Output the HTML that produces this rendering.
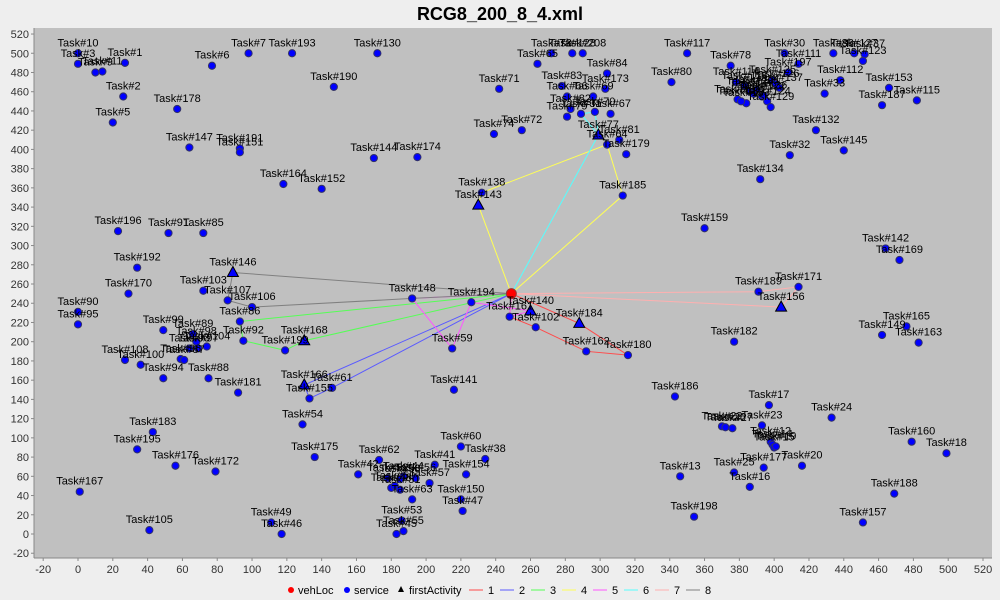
<!DOCTYPE html>
<html><head><meta charset="utf-8"><style>
html,body{margin:0;padding:0;background:#eeeeee;}
svg{display:block;font-family:"Liberation Sans",sans-serif;}
</style></head><body>
<svg id="chart" width="1000" height="600" xmlns="http://www.w3.org/2000/svg">
<rect x="0" y="0" width="1000" height="600" fill="#eeeeee"/>
<text x="500" y="20" text-anchor="middle" font-size="18" font-weight="bold" fill="#000">RCG8_200_8_4.xml</text>
<rect x="34" y="28" width="958" height="530" fill="#c0c0c0"/>
<g id="axes"></g><g id="routes"></g><g id="points"></g><g id="labels"></g><g id="legend"></g>
</svg>
<script>
const taskNames=["Task#10","Task#3","Task#1","Task#11","Task#9","Task#2","Task#5","Task#178","Task#6","Task#7","Task#193","Task#130","Task#190","Task#147","Task#191","Task#151","Task#144","Task#174","Task#164","Task#152","Task#196","Task#91","Task#85","Task#192","Task#170","Task#103","Task#107","Task#106","Task#90","Task#95","Task#86","Task#99","Task#89","Task#98","Task#104","Task#92","Task#199","Task#93","Task#108","Task#100","Task#96","Task#87","Task#97","Task#94","Task#88","Task#181","Task#61","Task#155","Task#54","Task#183","Task#195","Task#176","Task#172","Task#175","Task#167","Task#105","Task#49","Task#46","Task#62","Task#42","Task#44","Task#41","Task#56","Task#57","Task#63","Task#60","Task#38","Task#154","Task#150","Task#47","Task#53","Task#55","Task#45","Task#48","Task#50","Task#51","Task#52","Task#58","Task#148","Task#194","Task#59","Task#141","Task#138","Task#74","Task#72","Task#71","Task#65","Task#73","Task#128","Task#208","Task#84","Task#83","Task#173","Task#69","Task#66","Task#82","Task#31","Task#70","Task#67","Task#79","Task#81","Task#64","Task#179","Task#185","Task#117","Task#80","Task#78","Task#30","Task#197","Task#111","Task#114","Task#118","Task#120","Task#121","Task#122","Task#124","Task#125","Task#126","Task#131","Task#133","Task#135","Task#136","Task#137","Task#139","Task#129","Task#112","Task#33","Task#86b","Task#127","Task#37","Task#123","Task#153","Task#187","Task#115","Task#132","Task#145","Task#32","Task#134","Task#159","Task#142","Task#169","Task#189","Task#171","Task#161","Task#102","Task#162","Task#180","Task#165","Task#149","Task#163","Task#182","Task#186","Task#17","Task#24","Task#23","Task#22","Task#26","Task#27","Task#12","Task#14","Task#15","Task#19","Task#160","Task#18","Task#20","Task#177","Task#25","Task#13","Task#16","Task#188","Task#157","Task#198"];
const taskX=[0,0,27,14,10,26,20,57,77,98,123,172,147,64,93,93,170,195,118,140,23,52,72,34,29,72,86,100,0,0,93,49,66,68,74,95,119,64,27,36,59,61,69,49,75,92,146,133,129,43,34,56,79,136,1,41,111,117,173,161,187,205,194,202,192,220,234,223,220,221,186,187,183,180,182,185,178,185,192,226,215,216,232,239,255,242,264,272,284,290,304,278,303,296,281,283,289,297,306,281,311,304,315,313,350,341,375,406,408,414,378,383,386,390,393,396,399,401,379,384,388,394,403,381,398,438,429,434,446,452,451,466,462,482,424,440,409,392,360,464,472,391,414,248,263,292,316,476,462,483,377,343,397,433,393,370,372,376,398,399,400,401,479,499,416,394,377,346,386,469,451,354];
const taskY=[500,489,490,481,480,455,428,442,487,500,500,500,465,402,401,397,391,392,364,359,315,313,313,277,250,253,243,236,231,218,221,212,208,200,195,201,191,193,181,176,182,181,193,162,162,147,152,141,114,106,88,71,65,80,44,4,12,0,77,62,60,72,58,53,36,91,78,62,36,24,14,3,0,48,50,46,58,57,245,241,193,150,355,416,420,463,489,500,500,500,479,466,463,455,455,442,437,439,437,434,410,405,395,352,500,470,487,500,480,489,470,466,460,462,455,450,472,468,452,448,458,456,464,450,444,472,458,500,500,499,492,464,446,451,420,399,394,369,318,297,285,252,257,226,215,190,186,216,207,199,200,143,134,121,113,112,111,110,96,93,90,91,96,84,71,69,64,60,49,42,12,18];
const firstNames=["Task#146","Task#168","Task#166","Task#143","Task#77","Task#140","Task#184","Task#156"];
const firstX=[89,130,130,230,299,260,288,404];
const firstY=[272,201,155,342,415,232,219,236];
const vehX=[249];
const vehY=[250];
const routeIds=["1","2","3","4","5","6","7","8"];
const routeColors=["#ff4a4a","#5a5aff","#55ff55","#ffff55","#ff55ff","#55ffff","#ffb0b0","#808080"];
const routeStops=[
 ["Task#161","Task#102","Task#162","Task#180","Task#184"],
 ["Task#166","Task#155","Task#61"],
 ["Task#168","Task#199","Task#92","Task#86"],
 ["Task#143","Task#138","Task#64","Task#185"],
 ["Task#148","Task#59","Task#194","Task#140","Task#161"],
 ["Task#77","Task#31","Task#70","Task#77"],
 ["Task#189","Task#171","Task#156"],
 ["Task#146","Task#107","Task#106","Task#148"]
];
const xTicks=[-20,0,20,40,60,80,100,120,140,160,180,200,220,240,260,280,300,320,340,360,380,400,420,440,460,480,500,520];
const yTicks=[-20,0,20,40,60,80,100,120,140,160,180,200,220,240,260,280,300,320,340,360,380,400,420,440,460,480,500,520];

const NS="http://www.w3.org/2000/svg";
function sx(v){return 78+v*1.7404;}
function sy(v){return 534-v*0.9615;}
function mk(tag,attrs,parent){const e=document.createElementNS(NS,tag);for(const k in attrs)e.setAttribute(k,attrs[k]);parent.appendChild(e);return e;}
const axes=document.getElementById('axes'),routesG=document.getElementById('routes'),pts=document.getElementById('points'),lbl=document.getElementById('labels'),leg=document.getElementById('legend');

let l=mk('line',{x1:34,y1:28,x2:34,y2:558,stroke:'#888','stroke-width':1},axes);


l=mk('line',{x1:34,y1:558,x2:992,y2:558,stroke:'#888','stroke-width':1},axes);


xTicks.forEach(v=>{
 const x=sx(v);
 mk('line',{x1:x,y1:558,x2:x,y2:561,stroke:'#888'},axes);
 const t=mk('text',{x:x,y:573,'text-anchor':'middle','font-size':11,fill:'#333'},axes);
 t.textContent=v;
 
 
});
yTicks.forEach(v=>{
 const y=sy(v);
 mk('line',{x1:31,y1:y,x2:34,y2:y,stroke:'#888'},axes);
 const t=mk('text',{x:29,y:y+4,'text-anchor':'end','font-size':11,fill:'#333'},axes);
 t.textContent=v;
 
 
});

function pos(name){
 let i=firstNames.indexOf(name);
 if(i>=0)return [firstX[i],firstY[i]];
 i=taskNames.indexOf(name);
 if(i>=0)return [taskX[i],taskY[i]];
 return [vehX[0],vehY[0]];
}
routeStops.forEach((stops,r)=>{
 const seq=[[vehX[0],vehY[0]]].concat(stops.map(pos)).concat([[vehX[0],vehY[0]]]);
 const p=mk('polyline',{points:seq.map(q=>sx(q[0])+','+sy(q[1])).join(' '),fill:'none',stroke:routeColors[r],'stroke-width':1},routesG);
 
 
});

function label(name,x,y){
 const t=mk('text',{x:x,y:y-7,'text-anchor':'middle','font-size':11,fill:'#000'},lbl);
 t.textContent=name.replace('b','');
 
 
}
taskNames.forEach((n,i)=>{
 const x=sx(taskX[i]),y=sy(taskY[i]);
 const c=mk('circle',{cx:x,cy:y,r:3.6,fill:'#0000ff',stroke:'#333366','stroke-width':1},pts);
 
 
 label(n,x,y);
});
firstNames.forEach((n,i)=>{
 const x=sx(firstX[i]),y=sy(firstY[i]);
 const p=mk('polygon',{points:(x)+','+(y-6)+' '+(x-5.5)+','+(y+4)+' '+(x+5.5)+','+(y+4),fill:'#0000ff',stroke:'#000','stroke-width':1},pts);
 
 
 label(n,x,y);
});
vehX.forEach((v,i)=>{
 const c=mk('circle',{cx:sx(v),cy:sy(vehY[i]),r:5,fill:'#ff0000',stroke:'#993333','stroke-width':1},pts);
 
 
});

// legend
let lx=288;const ly=590;
let e=mk('circle',{cx:lx+3,cy:ly,r:3,fill:'#ff0000'},leg);


e=mk('text',{x:lx+10,y:ly+4,'font-size':11,fill:'#000'},leg);e.textContent='vehLoc';


lx=344;
e=mk('circle',{cx:lx+3,cy:ly,r:3,fill:'#0000ff'},leg);


e=mk('text',{x:lx+10,y:ly+4,'font-size':11,fill:'#000'},leg);e.textContent='service';


lx=398;
e=mk('polygon',{points:(lx+3)+','+(ly-4)+' '+lx+','+(ly+2)+' '+(lx+6)+','+(ly+2),fill:'#000'},leg);


e=mk('text',{x:lx+11,y:ly+4,'font-size':11,fill:'#000'},leg);e.textContent='firstActivity';


routeIds.forEach((id,i)=>{
 const x0=469+i*31;
 const ln=mk('line',{x1:x0,y1:ly,x2:x0+14,y2:ly,stroke:routeColors[i],'stroke-width':1},leg);
 
 
 const t=mk('text',{x:x0+19,y:ly+4,'font-size':11,fill:'#000'},leg);
 t.textContent=id;
 
 
});
</script>
</body></html>
